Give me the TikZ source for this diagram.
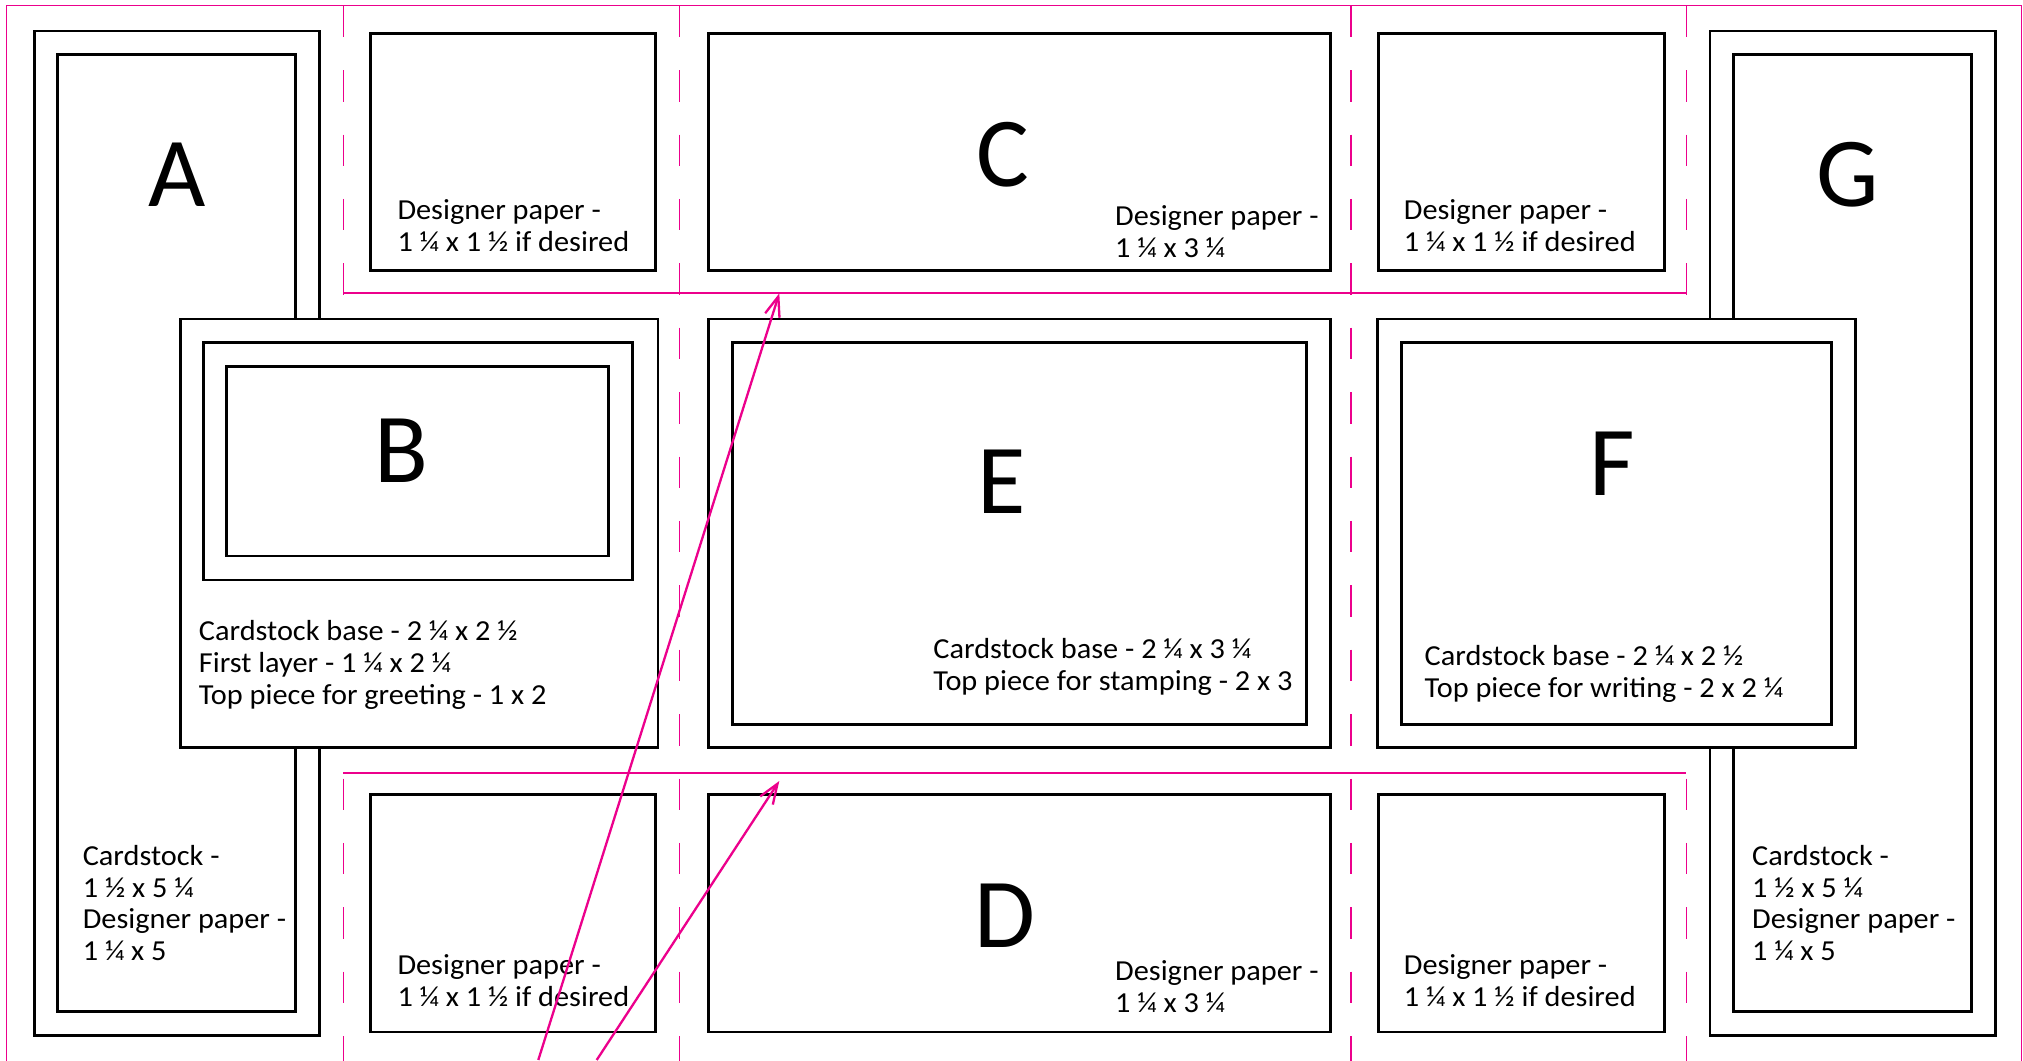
\documentclass[tikz,border=0pt]{standalone}
\usepackage{fontspec}
\setmainfont{Carlito}
\newfontfamily\lblfont{Carlito}[FakeStretch=1.045]
\usetikzlibrary{arrows.meta}
\definecolor{pinkm}{RGB}{236,0,140}
\newcommand\cardbox[5]{\node[pbox, minimum width={#4-#2}, minimum height={#5-#3}] (#1) at ({(#2+#4)/2},{(#3+#5)/2}) {};}
\begin{document}
\begin{tikzpicture}[x=1pt,y=-1pt,
  pbox/.style={draw=black, line width=2.8pt, fill=white, inner sep=0pt, outer sep=0pt, rectangle},
  lbl/.style={font=\lblfont\fontsize{29}{31.8}\selectfont, align=left, inner sep=0pt, anchor=base west},
  big/.style={font=\fontsize{99}{99}\selectfont, inner sep=0pt, anchor=base},
  thinm/.style={draw=pinkm, line width=1.4pt},
  dashm/.style={draw=pinkm, line width=1.4pt, dash pattern=on 31.5pt off 32.9pt},
  solidm/.style={draw=pinkm, line width=2.3pt},
  arr/.style={draw=pinkm, line width=2.3pt, -{Straight Barb[length=20pt,width=15pt]}}]
\useasboundingbox (0,0) rectangle (2023,1060);
\clip (0,0) rectangle (2023,1060);
\fill[white] (0,0) rectangle (2023,1060);
% magenta border
\draw[thinm] (6.7,1065) |- (2021.6,5.7) -- (2021.6,1065);
% dashed fold lines
\foreach \xx in {343.3,679.7,1351,1686.4}{\draw[dashm] (\xx,5.7) -- (\xx,1065);}
% solid cut lines
\coordinate (cutTL) at (343.3,293.3);
\coordinate (cutTR) at (1686.4,293.3);
\coordinate (cutBL) at (343.3,773.3);
\coordinate (cutBR) at (1686.4,773.3);
\draw[solidm] (cutTL) -- (cutTR);
\draw[solidm] (cutBL) -- (cutBR);
% side panels
\cardbox{Aout}{34.4}{31}{319.2}{1035.7}
\cardbox{Ain}{57.6}{54.3}{295.1}{1011.7}
\cardbox{Gout}{1709.9}{31}{1995.3}{1035.7}
\cardbox{Gin}{1733.4}{54.3}{1971.4}{1011.7}
% top row
\cardbox{DPa}{370.5}{33.3}{655.8}{270.7}
\cardbox{Cbox}{708.4}{33.3}{1330.2}{270.7}
\cardbox{DPb}{1378.4}{33.3}{1664.3}{270.7}
% middle row
\cardbox{Bout}{180.4}{319}{658}{747.7}
\cardbox{Bmid}{203.1}{342.7}{632.6}{580}
\cardbox{Bin}{226.8}{366.7}{608.5}{556}
\cardbox{Eout}{708.4}{319}{1330.2}{747.7}
\cardbox{Ein}{732.3}{342.7}{1306.2}{724.3}
\cardbox{Fout}{1377.5}{319}{1855.6}{747.7}
\cardbox{Fin}{1401.4}{342.7}{1831.7}{724.3}
% bottom row
\cardbox{DPc}{370.5}{794.3}{655.8}{1032}
\cardbox{Dbox}{708.4}{794.3}{1330.2}{1032}
\cardbox{DPd}{1378.4}{794.3}{1664.3}{1032}
% big letters
\node[big] (LA) at (177.5,206) {A};
\node[big] (LB) at (401,482.7) {B};
\node[big] (LC) at (1002.5,186) {C};
\node[big] (LD) at (1004.7,947.3) {D};
\node[big] (LE) at (1001.6,513.3) {E};
\node[big] (LF) at (1612.2,495) {F};
\node[big] (LG) at (1847.4,206) {G};
% texts (anchored at the baseline of the last line)
\node[lbl] (tDPa) at (397.3,251.7) {Designer paper -\\1 ¼ x 1 ½ if desired};
\node[lbl] (tDPb) at (1403.7,251.7) {Designer paper -\\1 ¼ x 1 ½ if desired};
\node[lbl] (tDPc) at (397.3,1006.7) {Designer paper -\\1 ¼ x 1 ½ if desired};
\node[lbl] (tDPd) at (1403.7,1006.7) {Designer paper -\\1 ¼ x 1 ½ if desired};
\node[lbl] (tC) at (1115,257.3) {Designer paper -\\1 ¼ x 3 ¼};
\node[lbl] (tD) at (1115,1012.7) {Designer paper -\\1 ¼ x 3 ¼};
\node[lbl] (tA) at (82.6,960.7) {Cardstock -\\1 ½ x 5 ¼\\Designer paper -\\1 ¼ x 5};
\node[lbl] (tG) at (1751.9,960.7) {Cardstock -\\1 ½ x 5 ¼\\Designer paper -\\1 ¼ x 5};
\node[lbl] (tB) at (198.7,704.3) {Cardstock base - 2 ¼ x 2 ½\\First layer - 1 ¼ x 2 ¼\\Top piece for greeting - 1 x 2};
\node[lbl] (tE) at (933.2,690) {Cardstock base - 2 ¼ x 3 ¼\\Top piece for stamping - 2 x 3};
\node[lbl] (tF) at (1424.5,697.3) {Cardstock base - 2 ¼ x 2 ½\\Top piece for writing - 2 x 2 ¼};
% arrows
\coordinate (tail1) at (538.3,1060);
\coordinate (head1) at (779.3,293.3);
\coordinate (tail2) at (596.7,1060);
\coordinate (head2) at (779.3,781);
\draw[arr] (tail1) -- (head1);
\draw[arr] (tail2) -- (head2);
\end{tikzpicture}
\end{document}
